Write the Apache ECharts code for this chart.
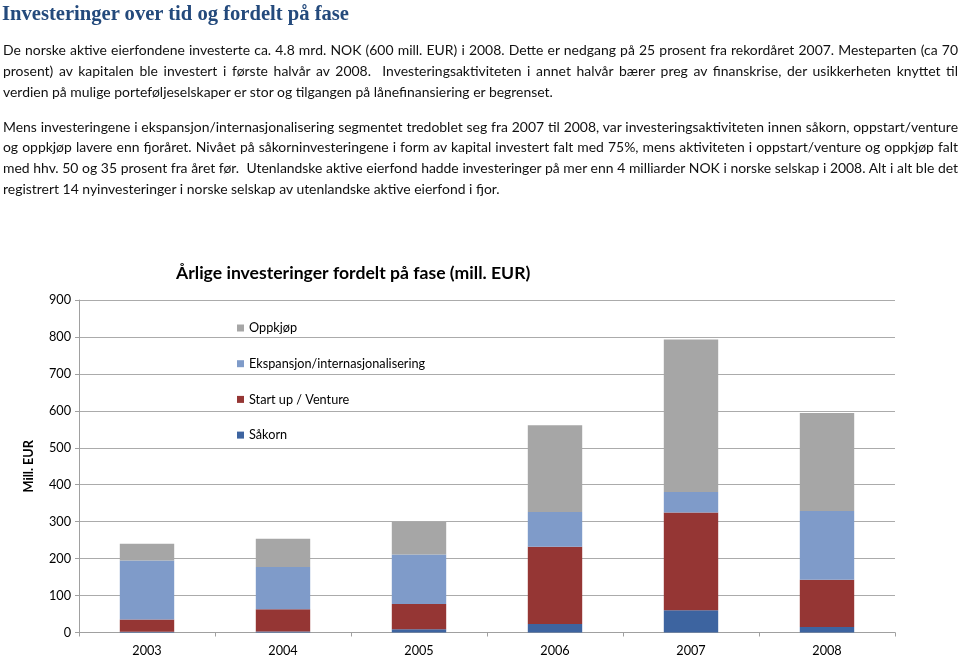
<!DOCTYPE html>
<html>
<head>
<meta charset="utf-8">
<script src="https://cdn.jsdelivr.net/npm/echarts@6/dist/echarts.min.js"></script>
<style>
  html, body { margin:0; padding:0; background:#fff; }
  #page { position:relative; width:960px; height:660px; overflow:hidden; }
  #chart { position:absolute; left:0; top:0; width:960px; height:660px; }
  .ln { position:absolute; left:3px; width:955px; height:20px; line-height:20px; white-space:nowrap;
        font-family: Lato, "Open Sans", sans-serif; font-size:13.95px; color:#111; }
  .j { text-align:justify; text-align-last:justify; white-space:normal; overflow:hidden; }
  #h1 { position:absolute; left:2px; top:1px; font-family:"Liberation Serif", serif; font-weight:bold;
        font-size:20.6px; color:#244a7c; white-space:nowrap; line-height:24px; }
</style>
</head>
<body>
<div id="page">
  <div id="chart"></div>
  <div id="h1">Investeringer over tid og fordelt på fase</div>
  <div class="ln j" style="top:40px">De norske aktive eierfondene investerte ca. 4.8 mrd. NOK (600 mill. EUR) i 2008. Dette er nedgang på 25 prosent fra rekordåret 2007. Mesteparten (ca 70</div>
  <div class="ln j" style="top:61px">prosent) av kapitalen ble investert i første halvår av 2008.&nbsp; Investeringsaktiviteten i annet halvår bærer preg av finanskrise, der usikkerheten knyttet til</div>
  <div class="ln" style="top:82px">verdien på mulige porteføljeselskaper er stor og tilgangen på lånefinansiering er begrenset.</div>
  <div class="ln j" style="top:117px">Mens investeringene i ekspansjon/internasjonalisering segmentet tredoblet seg fra 2007 til 2008, var investeringsaktiviteten innen såkorn, oppstart/venture</div>
  <div class="ln j" style="top:137px">og oppkjøp lavere enn fjoråret. Nivået på såkorninvesteringene i form av kapital investert falt med 75%, mens aktiviteten i oppstart/venture og oppkjøp falt</div>
  <div class="ln j" style="top:158px">med hhv. 50 og 35 prosent fra året før.&nbsp; Utenlandske aktive eierfond hadde investeringer på mer enn 4 milliarder NOK i norske selskap i 2008. Alt i alt ble det</div>
  <div class="ln" style="top:179px">registrert 14 nyinvesteringer i norske selskap av utenlandske aktive eierfond i fjor.</div>
</div>
<script>
const years = ['2003', '2004', '2005', '2006', '2007', '2008'];
const sakorn = [2, 3, 9, 23, 60, 15];
const startUp = [33, 60, 68, 209, 265, 128];
const ekspansjon = [160, 114, 134, 94, 55, 186];
const oppkjop = [45, 77, 88, 235, 413, 265];
const seriesNames = ['Såkorn', 'Start up / Venture', 'Ekspansjon/internasjonalisering', 'Oppkjøp'];
const seriesColors = ['#3d64a0', '#953634', '#7f9bc9', '#a6a6a6'];
const seriesData = [sakorn, startUp, ekspansjon, oppkjop];

// make sure justified lines never wrap: tighten letter spacing if needed
document.querySelectorAll('.j').forEach(el => {
  const probe = document.createElement('span');
  probe.style.whiteSpace = 'nowrap';
  probe.style.font = getComputedStyle(el).font;
  probe.style.position = 'absolute';
  probe.style.visibility = 'hidden';
  probe.textContent = el.textContent;
  document.body.appendChild(probe);
  const w = probe.getBoundingClientRect().width;
  document.body.removeChild(probe);
  const target = el.clientWidth - 4;
  if (w > target) {
    el.style.letterSpacing = ((target - w) / el.textContent.length) + 'px';
  }
});

const FONT = 'Lato, "Open Sans", sans-serif';
const chart = echarts.init(document.getElementById('chart'), null, { renderer: 'canvas' });
chart.setOption({
  animation: false,
  textStyle: { fontFamily: FONT },
  title: {
    text: 'Årlige investeringer fordelt på fase (mill. EUR)',
    left: 171, top: 259,
    textStyle: { fontFamily: FONT, fontWeight: 'bold', fontSize: 17.6, color: '#000' }
  },
  legend: {
    orient: 'vertical',
    left: 232, top: 316,
    itemWidth: 7, itemHeight: 7, itemGap: 21.7,
    icon: 'rect',
    data: ['Oppkjøp', 'Ekspansjon/internasjonalisering', 'Start up / Venture', 'Såkorn'],
    textStyle: { fontFamily: FONT, fontSize: 12.7, color: '#000', lineHeight: 14 },
    itemStyle: { borderWidth: 0 }
  },
  grid: { left: 79, right: 65, top: 300, bottom: 27.5, containLabel: false },
  xAxis: {
    type: 'category',
    data: years,
    axisLine: { lineStyle: { color: '#a0a0a0', width: 1 } },
    axisTick: { show: true, length: 4, lineStyle: { color: '#a0a0a0' } },
    axisLabel: { fontFamily: FONT, fontSize: 12.7, color: '#000', margin: 12 }
  },
  yAxis: {
    type: 'value',
    min: 0, max: 900, interval: 100,
    name: 'Mill. EUR',
    nameLocation: 'middle',
    nameGap: 44,
    nameTextStyle: { fontFamily: FONT, fontWeight: 'bold', fontSize: 12.7, color: '#000' },
    axisLine: { show: true, lineStyle: { color: '#a0a0a0', width: 1 } },
    axisTick: { show: true, length: 4, lineStyle: { color: '#a0a0a0' } },
    axisLabel: { fontFamily: FONT, fontSize: 12.7, color: '#000', margin: 8 },
    splitLine: { show: true, lineStyle: { color: '#ababab', width: 1.2 } }
  },
  series: seriesNames.map((n, i) => ({
    name: n,
    type: 'bar',
    stack: 'total',
    barWidth: '40%',
    data: seriesData[i],
    itemStyle: { color: seriesColors[i] }
  }))
});
</script>
</body>
</html>
